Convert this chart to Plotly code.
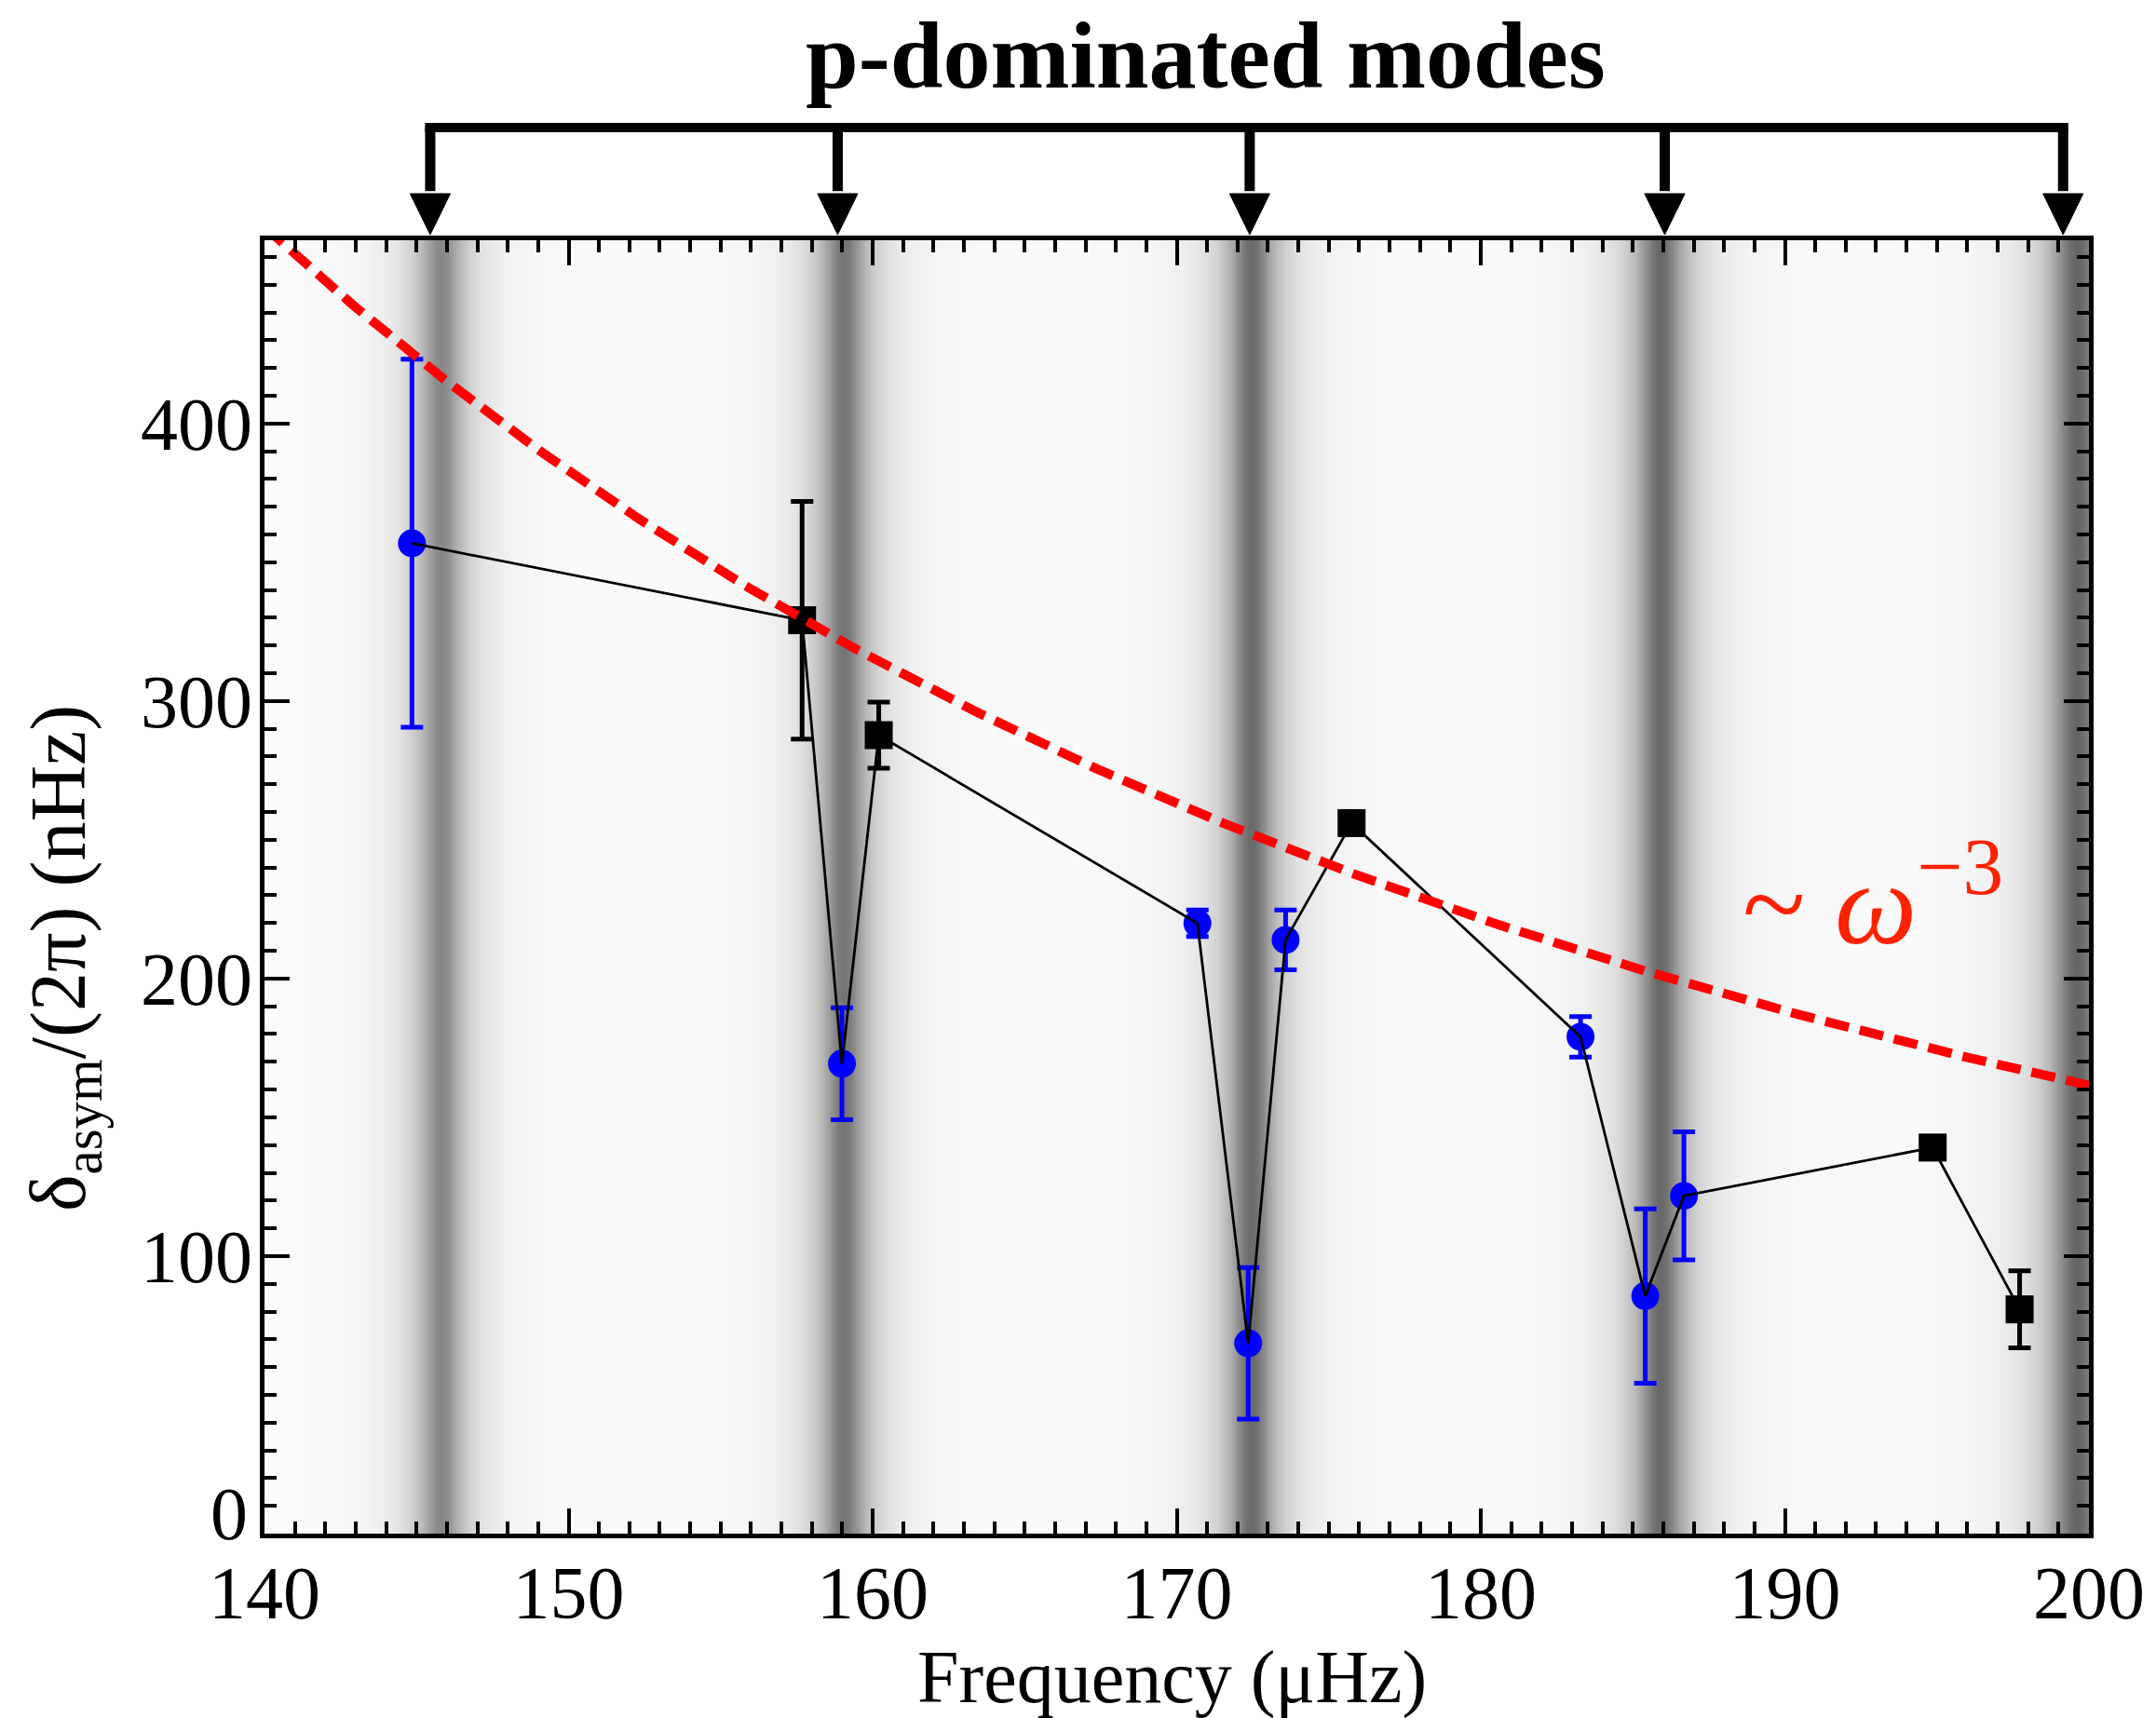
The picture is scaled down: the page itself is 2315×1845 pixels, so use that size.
import numpy as np
import pandas as pd
import plotly.graph_objects as go

# ---------------- data ----------------
blue_freq = [144.85, 158.99, 170.68, 172.35, 173.58, 183.28, 185.41, 186.68]
blue_val = [356.8, 169.3, 219.9, 68.6, 213.9, 179.0, 85.6, 121.7]
blue_err = [66.3, 20.2, 4.8, 27.3, 10.8, 7.3, 31.4, 23.1]

sq_freq = [157.68, 160.20, 175.75, 194.86, 197.72]
sq_val = [329.1, 287.7, 256.0, 139.1, 80.8]
sq_err = [42.8, 11.9, 3.0, 3.0, 13.9]

# p-dominated mode frequencies (arrows) and background band profile
pmode_arrow_freq = [145.45, 158.85, 172.40, 186.05, 199.15]
band_center = [145.8, 159.05, 172.45, 185.9, 199.6]
band_depth = [118, 136, 146, 148, 152]
band_width = [0.75, 0.75, 0.75, 0.78, 0.85]

# omega^-3 reference curve normalisation (value at 200 muHz)
omega3_ref_freq = 200.0
omega3_ref_val = 161.5

x_ticks = [140, 150, 160, 170, 180, 190, 200]
y_ticks = [0, 100, 200, 300, 400]

FONT = "Liberation Serif, Times New Roman, serif"

# ---------------- figure ----------------
fig = go.Figure()

# background grey bands
xg = np.linspace(140, 200, 1201)
gray = np.full_like(xg, 254.0)
for c, a, w in zip(band_center, band_depth, band_width):
    gray -= a / (1.0 + ((xg - c) / w) ** 2)
fig.add_trace(go.Heatmap(
    x=xg, y=[0, 466], z=[gray, gray],
    zmin=0, zmax=255,
    colorscale=[[0, "rgb(0,0,0)"], [1, "rgb(255,255,255)"]],
    showscale=False, zsmooth="best", hoverinfo="skip",
))

# blue circles
fig.add_trace(go.Scatter(
    x=blue_freq, y=blue_val, mode="markers",
    marker=dict(symbol="circle", size=30, color="#0000ff"),
    error_y=dict(type="data", array=blue_err, color="#0000ff", thickness=5, width=12),
    showlegend=False,
))

# connecting black line through all points
df = pd.concat([
    pd.DataFrame({"f": blue_freq, "v": blue_val}),
    pd.DataFrame({"f": sq_freq, "v": sq_val}),
]).sort_values("f")
fig.add_trace(go.Scatter(
    x=df["f"], y=df["v"], mode="lines",
    line=dict(color="black", width=2.8), showlegend=False,
))

# black squares
fig.add_trace(go.Scatter(
    x=sq_freq, y=sq_val, mode="markers",
    marker=dict(symbol="square", size=30, color="black"),
    error_y=dict(type="data", array=sq_err, color="black", thickness=5, width=12),
    showlegend=False,
))

# omega^-3 curve
xf = np.linspace(140, 200, 400)
yf = omega3_ref_val * (omega3_ref_freq / xf) ** 3
fig.add_trace(go.Scatter(
    x=xf, y=yf, mode="lines",
    line=dict(color="#ff0000", width=10, dash="26px,12px"),
    showlegend=False, hoverinfo="skip",
))

# ---------------- bracket with arrows ----------------
shapes = []
bar_y = 1.0871
base_y = 1.036
tip_y = 1.0043
half_w = 0.66
shapes.append(dict(type="line", xref="x", yref="paper",
                   x0=min(pmode_arrow_freq) - 0.17, x1=max(pmode_arrow_freq) + 0.17,
                   y0=bar_y, y1=bar_y, line=dict(color="black", width=10)))
for f in pmode_arrow_freq:
    shapes.append(dict(type="line", xref="x", yref="paper",
                       x0=f, x1=f, y0=bar_y, y1=base_y + 0.002,
                       line=dict(color="black", width=11)))
    shapes.append(dict(type="path", xref="x", yref="paper",
                       path=f"M {f - half_w},{base_y} L {f + half_w},{base_y} L {f},{tip_y} Z",
                       fillcolor="black", line=dict(color="black", width=1)))

annotations = [
    dict(text="<b>p-dominated modes</b>", xref="paper", yref="paper",
         x=0.516, y=1.143, xanchor="center", yanchor="middle", showarrow=False,
         font=dict(family=FONT, size=102, color="black")),
    dict(text="Frequency (μHz)", xref="paper", yref="paper",
         x=0.4977, y=-0.111, xanchor="center", yanchor="middle", showarrow=False,
         font=dict(family=FONT, size=80, color="black")),
    dict(text="δ<sub>asym</sub>/(2π) (nHz)", xref="paper", yref="paper",
         x=-0.1097, y=0.445, xanchor="center", yanchor="middle", showarrow=False,
         textangle=-90, font=dict(family=FONT, size=84, color="black")),
    dict(text="~ <i>ω</i><sup>−3</sup>", xref="x", yref="y",
         x=192.9, y=230, xanchor="center", yanchor="middle", showarrow=False,
         font=dict(family=FONT, size=125, color="#ff2200")),
    # the "0" tick label sits slightly raised above the corner, as in the original
    dict(text=str(y_ticks[0]), xref="paper", yref="y",
         x=0, y=y_ticks[0] + 7, xanchor="right", yanchor="middle", xshift=-16,
         showarrow=False, font=dict(family=FONT, size=80, color="black")),
]

axis_common = dict(
    showline=True, linewidth=5, linecolor="black", mirror="allticks",
    ticks="inside", ticklen=27, tickwidth=4, tickcolor="black",
    showgrid=False, zeroline=False,
    tickfont=dict(family=FONT, size=80, color="black"),
)

fig.update_layout(
    width=2315, height=1845, autosize=False,
    margin=dict(l=284, r=72, t=258, b=198, pad=0),
    paper_bgcolor="white", plot_bgcolor="white",
    showlegend=False,
    shapes=shapes, annotations=annotations,
    xaxis=dict(range=[140, 200], tickvals=x_ticks, ticktext=[str(v) for v in x_ticks],
               minor=dict(ticks="inside", ticklen=13, tickwidth=4, tickcolor="black",
                          dtick=1, tick0=140, showgrid=False),
               ticklabelstandoff=-10, **axis_common),
    yaxis=dict(range=[0, 466], tickvals=y_ticks,
               ticktext=[""] + [str(v) for v in y_ticks[1:]],
               minor=dict(ticks="inside", ticklen=13, tickwidth=4, tickcolor="black",
                          dtick=10, tick0=0, showgrid=False),
               ticklabelstandoff=-8, **axis_common),
)

fig.write_html("out.html")
